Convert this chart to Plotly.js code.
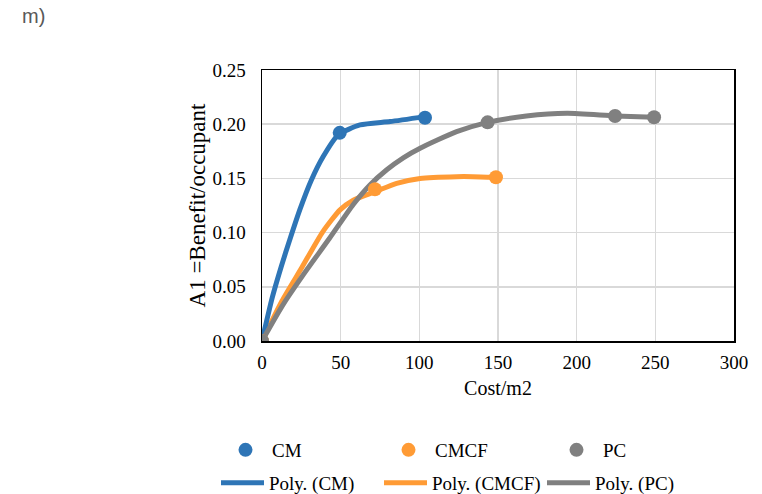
<!DOCTYPE html>
<html>
<head>
<meta charset="utf-8">
<script src="https://cdn.plot.ly/plotly-3.0.1.min.js"></script>
<style>
html,body{margin:0;padding:0;background:#fff;}
#chart{width:762px;height:494px;}
#tag{position:absolute;z-index:10;left:22px;top:5px;font-family:Arial,"Liberation Sans",sans-serif;font-size:20px;color:#595959;}
</style>
</head>
<body>
<div id="tag">m)</div>
<div id="chart"></div>
<script>
// Observed data points
var cmX = [0, 49.4, 103.6];
var cmY = [0, 0.192, 0.206];
var cmcfX = [0, 71.8, 148.7];
var cmcfY = [0, 0.140, 0.151];
var pcX = [0, 143.4, 224.4, 249.2];
var pcY = [0, 0.2017, 0.2076, 0.2064];

// Trendline curves
var polyCmX = [0, 6.5, 12.3, 17.6, 24, 31.4, 38.8, 48.3, 62.3, 81.4, 103.6];
var polyCmY = [0, 0.040, 0.069, 0.0932, 0.121, 0.1486, 0.170, 0.190, 0.1993, 0.2024, 0.207];
var polyCmcfX = [0, 12.7, 25.4, 38.5, 49.6, 58, 71.8, 85.6, 100.5, 123.7, 134, 148.7];
var polyCmcfY = [0, 0.037, 0.068, 0.1005, 0.121, 0.130, 0.1377, 0.1455, 0.150, 0.1516, 0.1516, 0.151];
var polyPcX = [0, 12.7, 25.4, 42.8, 58, 68.6, 79.3, 89.8, 100.5, 123.7, 143.4, 168, 194, 224.4, 249.2];
var polyPcY = [0, 0.032, 0.0594, 0.0945, 0.126, 0.144, 0.158, 0.169, 0.1778, 0.1931, 0.2017, 0.2075, 0.210, 0.2076, 0.2064];

var xTicks = [0, 50, 100, 150, 200, 250, 300];
var yTicks = [0, 0.05, 0.10, 0.15, 0.20, 0.25];

var blue = '#2E75B6', orange = '#FF9B35', gray = '#808080';
var font = 'Liberation Serif, Times New Roman, serif';

function line(x, y, name, color, leg) {
  return {x: x, y: y, name: name, type: 'scatter', mode: 'lines',
    line: {color: color, width: 5, shape: 'spline', smoothing: 0.6},
    legend: leg, hoverinfo: 'skip'};
}
function pts(x, y, name, color, leg) {
  return {x: x, y: y, name: name, type: 'scatter', mode: 'markers',
    marker: {color: color, size: 14}, legend: leg};
}

// drawing order: orange line, blue line, gray line, then markers
var data = [
  line(polyCmcfX, polyCmcfY, 'Poly. (CMCF)', orange, 'legend5'),
  line(polyCmX, polyCmY, 'Poly. (CM)', blue, 'legend4'),
  line(polyPcX, polyPcY, 'Poly. (PC)', gray, 'legend6'),
  pts(cmX, cmY, 'CM', blue, 'legend'),
  pts(cmcfX, cmcfY, 'CMCF', orange, 'legend2'),
  pts(pcX, pcY, 'PC', gray, 'legend3')
];

function leg(px, py) {
  return {orientation: 'h', xref: 'container', yref: 'container', x: px / 762, y: 1 - py / 494,
    xanchor: 'left', yanchor: 'middle', itemwidth: 43,
    font: {family: font, size: 19}, bgcolor: 'rgba(0,0,0,0)'};
}

var layout = {
  width: 762, height: 494,
  margin: {l: 262, r: 28, t: 70, b: 153},
  paper_bgcolor: '#fff', plot_bgcolor: '#fff',
  font: {family: font, size: 19, color: '#000'},
  showlegend: true,
  xaxis: {
    range: [0, 300], tickvals: xTicks, ticktext: xTicks.map(String),
    showgrid: true, gridcolor: '#d9d9d9', gridwidth: 1.5,
    showline: true, linecolor: '#000', linewidth: 1.5, mirror: true,
    zeroline: false, ticks: '', ticklabelstandoff: 4,
    title: {text: 'Cost/m2', font: {size: 20}, standoff: 8}
  },
  yaxis: {
    range: [0, 0.25], tickvals: yTicks, ticktext: yTicks.map(function(v){return v.toFixed(2);}),
    showgrid: true, gridcolor: '#d9d9d9', gridwidth: 1.5,
    showline: true, linecolor: '#000', linewidth: 1.5, mirror: true,
    zeroline: false, ticks: '', ticklabelstandoff: 11,
    title: {text: 'A1 =Benefit/occupant', font: {size: 23}, standoff: 0}
  },
  legend: leg(219, 450),
  legend2: leg(382, 450),
  legend3: leg(550, 450),
  legend4: leg(216, 483),
  legend5: leg(379, 483),
  legend6: leg(542, 483)
};

Plotly.newPlot('chart', data, layout, {displayModeBar: false, staticPlot: true});
</script>
</body>
</html>
